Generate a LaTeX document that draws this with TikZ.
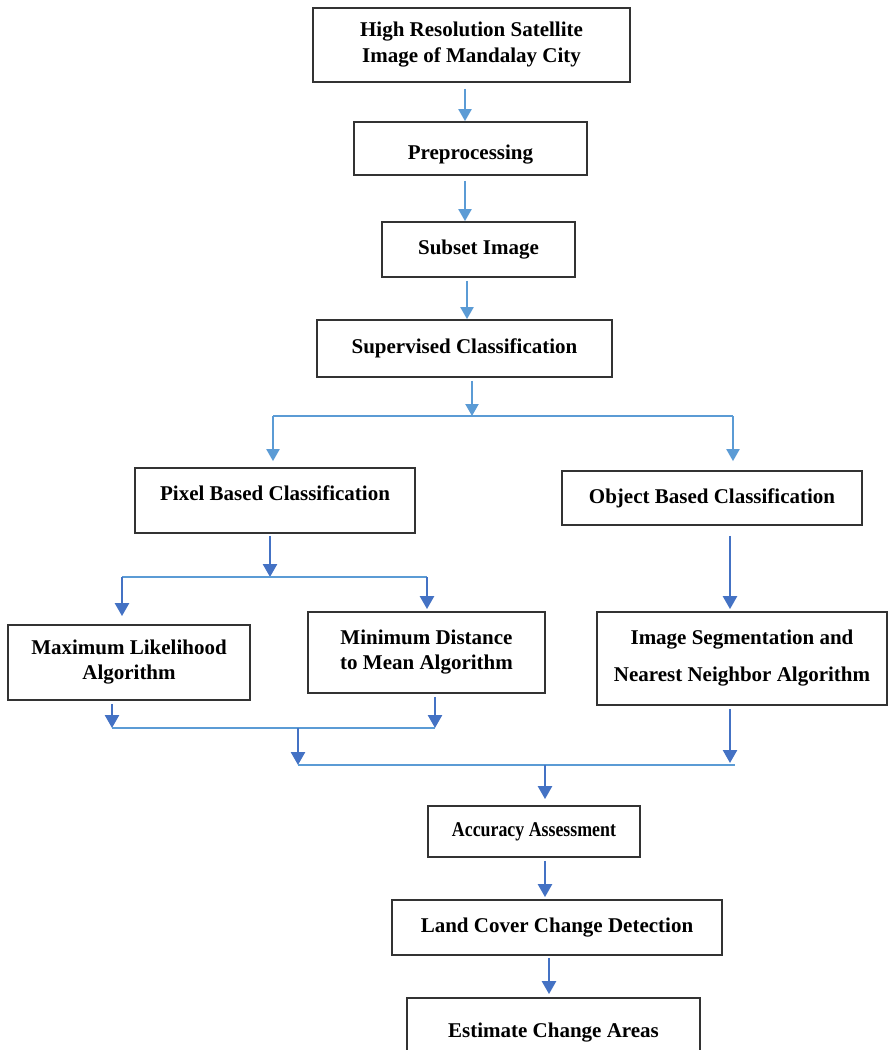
\documentclass[tikz,border=0pt]{standalone}
\usepackage{fontspec}
\setmainfont{Liberation Serif}
\usetikzlibrary{arrows.meta,calc}
\definecolor{lblue}{HTML}{5B9BD5}
\definecolor{dblue}{HTML}{4472C4}
\definecolor{boxline}{HTML}{333333}
\begin{document}
\begin{tikzpicture}[x=1pt,y=-1pt,
  box/.style={draw=boxline,line width=1.8pt,fill=white,align=center,inner sep=2pt,
    font=\fontsize{21}{26}\selectfont\bfseries},
  arrL/.style={draw=lblue,line width=2.2pt,-{Triangle[length=12pt,width=13pt]}},
  arrD/.style={draw=dblue,line width=2.5pt,-{Triangle[length=13pt,width=14pt]}},
  lineL/.style={draw=lblue,line width=2.2pt}]
\useasboundingbox (0,0) rectangle (890,1050);
\clip (0,0) rectangle (890,1050);
\fill[white] (0,0) rectangle (890,1050);

\node[box,minimum width=317pt,minimum height=74pt] (n1) at (471.5,45) {High Resolution Satellite\\Image of Mandalay City};
\node[box,minimum width=233pt,minimum height=53pt] (n2) at (470.5,148.5) {\raisebox{-6pt}[\height][\depth]{Preprocessing}};
\node[box,minimum width=193pt,minimum height=55pt] (n3) at (478.5,249.5) {Subset Image};
\node[box,minimum width=295pt,minimum height=57pt] (n4) at (464.5,348.5) {Supervised Classification};
\node[box,minimum width=280pt,minimum height=65pt] (n5) at (275,500.5) {\raisebox{7pt}[\height][\depth]{Pixel Based Classification}};
\node[box,minimum width=300pt,minimum height=54pt] (n6) at (712,498) {Object Based Classification};
\node[box,minimum width=242pt,minimum height=75pt,font=\fontsize{21}{25}\selectfont\bfseries] (n7) at (129,662.5) {Maximum Likelihood\\Algorithm};
\node[box,minimum width=237pt,minimum height=81pt,font=\fontsize{21}{25}\selectfont\bfseries] (n8) at (426.5,652.5) {Minimum Distance\\to Mean Algorithm};
\node[box,minimum width=290pt,minimum height=93pt,font=\fontsize{21}{37}\selectfont\bfseries] (n9) at (742,658.5) {Image Segmentation and\\Nearest Neighbor Algorithm};
\node[box,minimum width=212pt,minimum height=51pt] (n10) at (534,831.5) {\scalebox{0.85}[1]{Accuracy Assessment}};
\node[box,minimum width=330pt,minimum height=55pt] (n11) at (557,927.5) {Land Cover Change Detection};
\node[box,minimum width=293pt,minimum height=62pt] (n12) at (553.5,1029) {\raisebox{-4pt}[\height][\depth]{Estimate Change Areas}};

% junction coordinates
\coordinate (s1) at (472,416);
\coordinate (sL) at (273,416);
\coordinate (sR) at (733,416);
\coordinate (p1) at (270,577);
\coordinate (pL) at (122,577);
\coordinate (pR) at (427,577);
\coordinate (q1) at (298,728);
\coordinate (qL) at (112,728);
\coordinate (qR) at (435,728);
\coordinate (r1) at (545,765);
\coordinate (rL) at (298,765);
\coordinate (rR) at (735,765);

% top chain
\draw[arrL,shorten <=6pt] ([xshift=-6.5pt]n1.south) -- ([xshift=-6.5pt]n1.south |- n2.north);
\draw[arrL,shorten <=5pt] ([xshift=-5.5pt]n2.south) -- ([xshift=-5.5pt]n2.south |- n3.north);
\draw[arrL,shorten <=3pt] ([xshift=-11.5pt]n3.south) -- ([xshift=-11.5pt]n3.south |- n4.north);
\draw[arrL,shorten <=3pt] ([xshift=7.5pt]n4.south) -- (s1);
\draw[lineL] (sL) -- (sR);
\draw[arrL,shorten >=6pt] (sL) -- (sL |- n5.north);
\draw[arrL,shorten >=9pt] (sR) -- (sR |- n6.north);

% pixel branch
\draw[arrD,shorten <=2pt] ([xshift=-5pt]n5.south) -- (p1);
\draw[lineL] (pL) -- (pR);
\draw[arrD,shorten >=8pt] (pL) -- (pL |- n7.north);
\draw[arrD,shorten >=2pt] (pR) -- (pR |- n8.north);

% object branch
\draw[arrD,shorten <=10pt,shorten >=2pt] ([xshift=18pt]n6.south) -- ([xshift=18pt]n6.south |- n9.north);

% merges
\draw[arrD,shorten <=3pt] ([xshift=-17pt]n7.south) -- (qL);
\draw[arrD,shorten <=3pt] ([xshift=8.5pt]n8.south) -- (qR);
\draw[lineL] (qL) -- (qR);
\draw[arrD] (q1) -- (rL);
\draw[arrD,shorten <=3pt,shorten >=2pt] ([xshift=-12pt]n9.south) -- ([xshift=-12pt]n9.south |- rR);
\draw[lineL] (rL) -- (rR);
\draw[arrD,shorten >=6pt] (r1) -- (r1 |- n10.north);

% bottom chain
\draw[arrD,shorten <=3pt,shorten >=2pt] ([xshift=11pt]n10.south) -- ([xshift=11pt]n10.south |- n11.north);
\draw[arrD,shorten <=2pt,shorten >=3pt] ([xshift=-8pt]n11.south) -- ([xshift=-8pt]n11.south |- n12.north);
\end{tikzpicture}
\end{document}
